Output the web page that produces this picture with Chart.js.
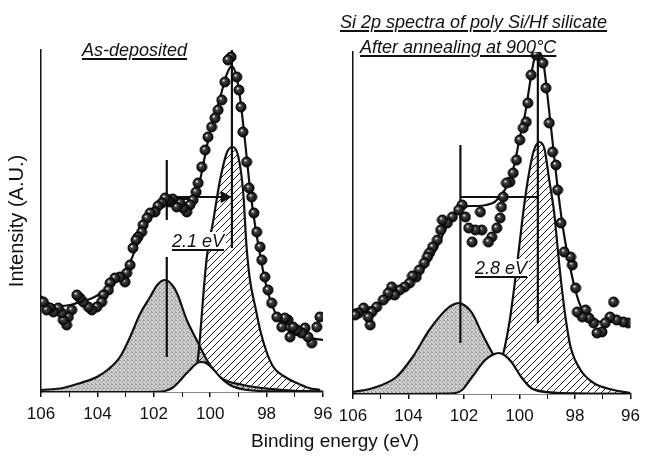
<!DOCTYPE html>
<html>
<head>
<meta charset="utf-8">
<script src="https://cdn.jsdelivr.net/npm/chart.js@4.4.0/dist/chart.umd.min.js"></script>
<style>
body { margin: 0; background: #fff; }
#wrap { position: relative; width: 647px; height: 459px; overflow: hidden; font-family: "Liberation Sans", Arial, sans-serif; color: #111; }
canvas { position: absolute; left: 0; top: 0; }
.lbl { position: absolute; font-style: italic; white-space: nowrap; line-height: 1; font-size: 18px;
       text-decoration: underline; text-decoration-thickness: 1.5px; text-underline-offset: 2px; }
.ev { background: #fff; padding: 0 2px; }
#xtitle { position: absolute; left: 185px; width: 300px; top: 431px; text-align: center; font-size: 19px; line-height: 1; }
</style>
</head>
<body>
<div id="wrap">
  <canvas id="leftChart" width="647" height="459"></canvas>
  <canvas id="rightChart" width="647" height="459"></canvas>
  <div class="lbl" style="left:340px;top:13px">Si 2p spectra of poly Si/Hf silicate</div>
  <div class="lbl" style="left:360px;top:38px">After annealing at 900°C</div>
  <div class="lbl" style="left:82px;top:41px">As-deposited</div>
  <div class="lbl ev" style="left:170px;top:232px">2.1 eV</div>
  <div class="lbl ev" style="left:473px;top:259px">2.8 eV</div>
  <div id="xtitle">Binding energy (eV)</div>
</div>
<script>
// x ticks (binding energy, eV) - axis runs 106 -> 96
const xTickLabels = [106, 104, 102, 100, 98, 96];

// ---- As-deposited panel: [binding energy, intensity]
const leftPoints = [
  [105.92,90],[105.80,82],[105.68,84],[105.56,80],[105.39,84],[105.27,79],[105.21,72],[105.09,67],
  [105.03,75],[104.91,82],[104.73,97],[104.62,94],[104.50,90],[104.32,85],[104.20,82],[104.02,85],
  [103.85,90],[103.79,97],[103.61,102],[103.55,109],[103.38,114],[103.20,115],[103.02,110],[102.96,119],
  [102.84,127],[102.74,144],[102.63,152],[102.56,155],[102.43,160],[102.38,167],[102.24,174],[102.13,179],
  [101.96,180],[101.85,186],[101.72,189],[101.60,194],[101.50,192],[101.43,190],[101.33,193],[101.19,185],
  [101.07,189],[100.96,184],[100.83,180],[100.72,187],[100.61,192],[100.50,200],[100.43,209],[100.30,225],
  [100.18,242],[100.08,255],[99.95,265],[99.83,274],[99.72,282],[99.59,292],[99.48,310],[99.37,332],
  [99.26,335],[99.06,315],[98.98,302],[98.91,285],[98.84,260],[98.71,230],[98.62,204],[98.53,195],
  [98.45,179],[98.35,160],[98.23,145],[98.17,132],[98.06,115],[97.95,102],[97.82,89],[97.64,75],
  [97.46,65],[97.35,74],[97.24,72],[97.17,55],[97.06,65],[96.93,62],[96.76,59],[96.64,64],
  [96.53,55],[96.40,49],[96.22,65],[96.11,75]
];
const leftFit = [
  [96.0,52],[96.46,54],[96.82,56],[97.17,60],[97.52,70],[97.87,92],[98.06,112],[98.23,137],
  [98.41,167],[98.59,204],[98.77,252],[98.94,294],[99.09,318],[99.24,326],[99.38,320],[99.48,312],
  [99.65,294],[99.83,278],[100.0,261],[100.18,237],[100.36,212],[100.54,198],[100.79,193],[101.07,193],
  [101.43,193],[101.78,187],[102.13,174],[102.49,154],[102.84,130],[103.2,114],[103.55,105],[103.91,98],
  [104.26,93],[104.62,90],[104.97,87],[105.33,86],[105.68,88],[106.0,96]
];
const leftOxide = [
  [96.0,0.5],[97.42,2],[98.84,7],[99.65,15],[100.12,32],[100.48,52],[100.83,72],[101.18,99],
  [101.35,107],[101.6,112],[101.88,107],[102.13,95],[102.49,78],[102.84,55],[103.2,35],[103.6,23],
  [104.02,15],[104.6,9],[105.22,4],[106.0,2]
];
const leftSuboxide = [
  [96.0,0],[97.4,0.5],[98.7,2],[99.3,7],[99.65,15],[99.9,23],[100.15,29],[100.36,30],
  [100.55,27],[100.72,22],[100.9,17],[101.08,11],[101.3,5],[101.5,2],[101.7,0.5],[102.5,0],[106.0,0]
];
const leftSubstrate = [
  [96.1,2],[96.5,4],[96.93,9],[97.4,16],[97.76,25],[98.0,40],[98.23,62],[98.4,85],
  [98.59,112],[98.71,145],[98.83,200],[99.0,235],[99.2,245],[99.4,240],[99.65,212],[99.9,170],
  [100.12,135],[100.25,95],[100.36,55],[100.45,30],[100.55,14],[100.7,4],[101.0,1],[102.0,0],[106.0,0]
];
const leftMarkers = [
  [[101.54,232],[101.54,172]],
  [[101.54,135],[101.54,35]],
  [[99.23,342],[99.23,144]]
];
const leftArrow = [[101.54,195],[99.5,195]];

// ---- After annealing at 900 C panel
const rightPoints = [
  [105.92,79],[105.80,81],[105.62,86],[105.45,77],[105.38,69],[105.32,82],[105.15,87],[104.91,94],
  [104.73,101],[104.61,107],[104.50,99],[104.32,104],[104.14,107],[103.96,111],[103.86,118],[103.72,117],
  [103.61,124],[103.43,131],[103.32,137],[103.25,141],[103.13,147],[102.96,154],[102.84,164],[102.78,174],
  [102.60,171],[102.42,177],[102.19,184],[102.07,189],[101.95,177],[101.83,166],[101.71,152],[101.59,164],
  [101.41,182],[101.36,164],[101.12,152],[101.00,157],[100.82,166],[100.70,176],[100.65,187],[100.59,197],
  [100.47,211],[100.35,212],[100.23,221],[100.11,234],[99.99,254],[99.87,266],[99.76,272],[99.70,291],
  [99.58,319],[99.40,339],[99.16,331],[99.05,306],[98.93,271],[98.81,242],[98.69,229],[98.63,204],
  [98.51,171],[98.39,142],[98.16,137],[98.10,129],[97.98,106],[97.92,82],[97.74,77],[97.62,84],
  [97.50,76],[97.33,71],[97.21,61],[97.03,62],[96.91,71],[96.74,77],[96.61,92],[96.50,74],
  [96.26,72],[96.08,71]
];
const rightFit = [
  [96.0,72],[96.5,72],[97.0,72],[97.5,78],[97.8,88],[98.0,105],[98.2,130],[98.4,160],
  [98.6,200],[98.8,250],[99.0,300],[99.15,333],[99.3,341],[99.45,337],[99.6,315],[99.8,280],
  [100.0,255],[100.2,228],[100.45,208],[100.7,198],[100.9,192],[101.2,189],[101.5,188],[101.8,188],
  [102.1,186],[102.4,178],[102.7,163],[103.0,145],[103.5,123],[104.0,108],[104.5,98],[105.0,90],
  [105.5,86],[106.0,84]
];
const rightOxide = [
  [96.0,0],[98.51,1],[99.46,4],[100.05,9],[100.53,21],[101.0,42],[101.36,61],[101.71,81],
  [101.95,88],[102.19,91],[102.42,89],[102.66,84],[103.25,64],[103.85,37],[104.44,17],[105.27,6],[106.0,2]
];
const rightSuboxide = [
  [96.0,0],[98.0,0.3],[99.1,2],[99.58,6],[99.94,17],[100.29,32],[100.55,39],[100.76,41],
  [100.98,39],[101.24,34],[101.71,17],[102.07,4],[102.5,0.5],[106.0,0]
];
const rightSubstrate = [
  [96.0,1],[96.61,4],[97.33,11],[97.8,24],[98.16,47],[98.33,74],[98.51,114],[98.63,147],
  [98.75,181],[98.93,214],[99.1,245],[99.28,252],[99.5,242],[99.7,214],[99.85,185],[100.0,150],
  [100.17,111],[100.35,74],[100.53,47],[100.65,34],[100.85,15],[101.1,5],[101.5,1],[102.0,0],[106.0,0]
];
const rightMarkers = [
  [[102.13,249],[102.13,51]],
  [[99.34,339],[99.34,71]],
  [[102.13,197],[99.34,197]]
];

const FONT = '"Liberation Sans", Arial, sans-serif';
const INK = '#111';

function xy(pairs) {
  return pairs.map(p => ({ x: p[0], y: p[1] })).sort((a, b) => a.x - b.x);
}

// dark shaded ball used for the measured points
function makeBall(r) {
  const c = document.createElement('canvas');
  c.width = c.height = 2 * r + 2;
  const g = c.getContext('2d');
  const cx = r + 1, cy = r + 1;
  const grad = g.createRadialGradient(cx - r * 0.3, cy - r * 0.35, r * 0.05, cx, cy, r);
  grad.addColorStop(0, '#f4f4f4');
  grad.addColorStop(0.3, '#444');
  grad.addColorStop(1, '#050505');
  g.fillStyle = grad;
  g.beginPath(); g.arc(cx, cy, r, 0, Math.PI * 2); g.fill();
  g.strokeStyle = '#000'; g.lineWidth = 1; g.stroke();
  return c;
}

function makeStipple() {
  const c = document.createElement('canvas');
  c.width = c.height = 4;
  const g = c.getContext('2d');
  g.fillStyle = '#d2d2d2'; g.fillRect(0, 0, 4, 4);
  g.fillStyle = '#959595';
  [[0,0],[2,1],[1,2],[3,3],[3,0]].forEach(p => g.fillRect(p[0], p[1], 1, 1));
  return g.createPattern(c, 'repeat');
}

function makeHatch() {
  const s = 7;
  const c = document.createElement('canvas');
  c.width = c.height = s;
  const g = c.getContext('2d');
  g.strokeStyle = '#222'; g.lineWidth = 1;
  g.beginPath();
  g.moveTo(0, s); g.lineTo(s, 0);
  g.moveTo(-1, 1); g.lineTo(1, -1);
  g.moveTo(s - 1, s + 1); g.lineTo(s + 1, s - 1);
  g.stroke();
  return g.createPattern(c, 'repeat');
}

const ball = makeBall(5);
const stipple = makeStipple();
const hatch = makeHatch();

function peak(pairs, fillStyle, order) {
  return {
    data: xy(pairs), borderColor: INK, borderWidth: 2.2, backgroundColor: fillStyle,
    fill: 'origin', pointRadius: 0, cubicInterpolationMode: 'monotone', order: order
  };
}

function lineSet(pairs, order) {
  return { data: pairs.map(p => ({ x: p[0], y: p[1] })), borderColor: INK, borderWidth: 2.2,
           fill: false, pointRadius: 0, order: order };
}

function panelDatasets(p) {
  const sets = [
    peak(p.oxide, stipple, 9),
    peak(p.substrate, hatch, 8),
    peak(p.suboxide, '#fff', 7),
    { data: xy(p.fit), borderColor: INK, borderWidth: 2.2, fill: false, pointRadius: 0,
      cubicInterpolationMode: 'monotone', order: 5 }
  ];
  p.markers.forEach(m => sets.push(lineSet(m, 4)));
  if (p.arrow) {
    const a = lineSet(p.arrow, 4);
    a.pointStyle = 'triangle';
    a.pointRotation = 90;
    a.pointRadius = ctx => ctx.dataIndex === 1 ? 5 : 0;
    a.pointBackgroundColor = INK;
    a.pointBorderColor = INK;
    sets.push(a);
  }
  sets.push({ data: xy(p.points), showLine: false, pointStyle: ball, pointRadius: 5, order: 1 });
  return sets;
}

function buildPanel(id, p, g) {
  return new Chart(document.getElementById(id), {
    type: 'line',
    data: { datasets: panelDatasets(p) },
    options: {
      responsive: false,
      animation: false,
      devicePixelRatio: 1,
      events: [],
      layout: { padding: { left: g.padLeft, right: g.padRight, top: g.padTop, bottom: 0 } },
      plugins: { legend: { display: false }, tooltip: { enabled: false } },
      scales: {
        x: {
          type: 'linear', reverse: true, min: 96, max: 106,
          border: { display: true, color: INK, width: 1.5 },
          grid: { drawOnChartArea: false, drawTicks: true, tickLength: 5, color: INK,
                  lineWidth: ctx => (ctx.tick && ctx.tick.value % 2 === 0) ? 1.5 : 1 },
          ticks: {
            stepSize: 1, autoSkip: false, maxRotation: 0, padding: 7, color: INK,
            font: { family: FONT, size: 17 },
            callback: v => xTickLabels.includes(v) ? String(v) : ''
          },
          afterFit: s => { s.height = g.xHeight; }
        },
        y: {
          min: 0, max: 342,
          border: { display: true, color: INK, width: 1.5 },
          grid: { display: false },
          ticks: { display: false },
          title: { display: g.yTitle, text: 'Intensity (A.U.)', color: INK,
                   font: { family: FONT, size: 20 }, padding: { top: 5, bottom: 0 } },
          afterFit: s => { s.width = g.yWidth; }
        }
      }
    }
  });
}

buildPanel('leftChart', {
  points: leftPoints, fit: leftFit, oxide: leftOxide, suboxide: leftSuboxide,
  substrate: leftSubstrate, markers: leftMarkers, arrow: leftArrow
}, { padLeft: 0, yWidth: 41, padRight: 324, padTop: 50, xHeight: 67, yTitle: true });

buildPanel('rightChart', {
  points: rightPoints, fit: rightFit, oxide: rightOxide, suboxide: rightSuboxide,
  substrate: rightSubstrate, markers: rightMarkers, arrow: null
}, { padLeft: 353, yWidth: 0, padRight: 13, padTop: 52, xHeight: 65, yTitle: false });
</script>
</body>
</html>
